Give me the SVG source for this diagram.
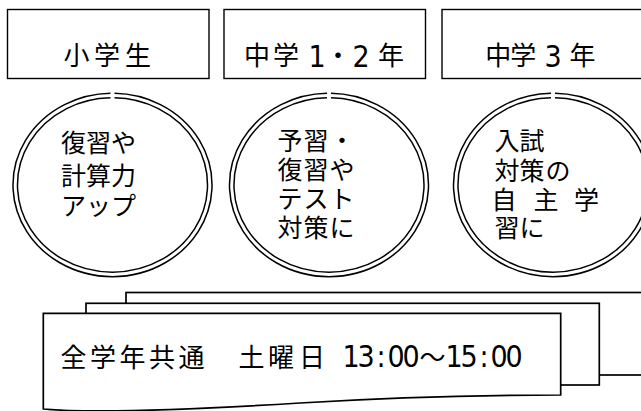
<svg xmlns="http://www.w3.org/2000/svg" width="641" height="411" viewBox="0 0 641 411">
<style>
.box{fill:#fff;stroke:#000;stroke-width:1.4}
.el{fill:none;stroke:#000;stroke-width:1.5}
.doc{fill:#fff;stroke:#000;stroke-width:1.7}
.t{font-family:"Noto Sans CJK JP","Noto Sans CJK SC",sans-serif;fill:#000;text-anchor:middle}
.f26{font-size:26px}
.f25{font-size:25px}
.dg{font-family:"Liberation Sans Narrow","DejaVu Sans Condensed","Liberation Sans",sans-serif;font-size:30px}
</style>
<rect width="641" height="411" fill="#fff"/>
<g id="box-shogakusei">
<rect class="box" x="7.5" y="9.5" width="201.5" height="69"/>
<text class="t f26" x="76.5 107 138" y="65">小学生</text>
</g>
<g id="box-chugaku12">
<rect class="box" x="224" y="9.5" width="201.5" height="69"/>
<text class="t f26" y="65"><tspan x="257 286 301">中学 </tspan><tspan class="dg" x="317" y="66.5">1</tspan><tspan x="338" y="65">・</tspan><tspan class="dg" x="361" y="66.5">2</tspan><tspan x="376 391" y="65"> 年</tspan></text>
</g>
<g id="box-chugaku3">
<rect class="box" x="442" y="9.5" width="201.5" height="69"/>
<text class="t f26" y="65"><tspan x="498.3 523.3 538">中学 </tspan><tspan class="dg" x="553" y="66.5">3</tspan><tspan x="568 582.5" y="65"> 年</tspan></text>
</g>
<g id="circle-shogakusei">
<path class="el" d="M114.5,93.3 A99.5,91.7 0 1 1 110.5,93.3"/>
<path class="el" d="M114.5,97.8 A95,87.2 0 1 1 110.5,97.8"/>
<text class="t f25" x="73.5 98.5 123.5" y="151.5">復習や</text>
<text class="t f25" x="73.5 98.5 123.5" y="185">計算力</text>
<text class="t f25" x="73.5 98.5 123.5" y="215">アップ</text>
</g>
<g id="circle-chugaku12">
<path class="el" d="M331,93.3 A99.5,91.7 0 1 1 327,93.3"/>
<path class="el" d="M331,97.8 A95,87.2 0 1 1 327,97.8"/>
<text class="t f25" x="290 316 342" y="150">予習・</text>
<text class="t f25" x="290 316 342" y="178.5">復習や</text>
<text class="t f25" x="290 316 342" y="208">テスト</text>
<text class="t f25" x="290 316 342" y="236.5">対策に</text>
</g>
<g id="circle-chugaku3">
<path class="el" d="M555,93.3 A99.5,91.7 0 1 1 551,93.3"/>
<path class="el" d="M555,97.8 A95,87.2 0 1 1 551,97.8"/>
<text class="t f25" x="507 532" y="150">入試</text>
<text class="t f25" x="507 532 558" y="180">対策の</text>
<text class="t f25" x="504 546 586.5" y="208.5">自主学</text>
<text class="t f25" x="507 532" y="236.5">習に</text>
</g>
<g id="connectors"></g>
<g id="schedule">
<rect class="doc" x="126" y="292.5" width="530" height="82.5"/>
<rect class="doc" x="86" y="303.3" width="513.3" height="81.7"/>
<path class="doc" d="M43.3,313.3 H560.7 V395 C480,395 380,398 300,403 S100,414 43.3,409 Z"/>
<text class="t f26" y="366.5"><tspan x="73.5 103 132.5 162 191.5 221 251.5 281 312 330">全学年共通　土曜日 </tspan><tspan class="dg" x="351 366 381 396 411" y="367">13:00</tspan><tspan x="432.5" y="366.5">～</tspan><tspan class="dg" x="454 469 484 499 514" y="367">15:00</tspan></text>
</g>
</svg>
